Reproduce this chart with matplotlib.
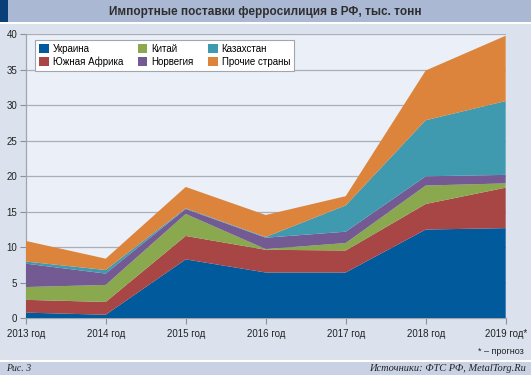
import matplotlib
matplotlib.use("Agg")
import matplotlib.pyplot as plt
from matplotlib.patches import Rectangle, Patch

plt.rcParams['font.family'] = ['Liberation Sans', 'DejaVu Sans']

years = [2013, 2014, 2015, 2016, 2017, 2018, 2019]
year_labels = ['2013 год', '2014 год', '2015 год', '2016 год', '2017 год', '2018 год', '2019 год*']
series_names = ['Украина', 'Южная Африка', 'Китай', 'Норвегия', 'Казахстан', 'Прочие страны']
ukraine = [0.8, 0.5, 8.3, 6.45, 6.45, 12.5, 12.7]
south_africa = [1.8, 1.8, 3.3, 3.2, 3.1, 3.6, 5.7]
china = [1.8, 2.4, 3.1, 0.1, 1.05, 2.6, 0.6]
norway = [3.3, 1.6, 0.7, 1.6, 1.6, 1.3, 1.2]
kazakhstan = [0.3, 0.5, 0.1, 0.1, 3.7, 7.9, 10.4]
others = [2.9, 1.6, 3.0, 3.1, 1.3, 7.0, 9.2]
colors = ['#005a9c', '#a84545', '#8aa84e', '#745a92', '#3f9ab0', '#dd843c']

W, H = 531, 375
fig = plt.figure(figsize=(W / 100, H / 100), dpi=100)
fig.patch.set_facecolor('#dbe2ee')

def px_rect(x0, y0, x1, y1, color):
    fig.patches.append(Rectangle((x0 / W, 1 - y1 / H), (x1 - x0) / W, (y1 - y0) / H,
                                 transform=fig.transFigure, facecolor=color,
                                 edgecolor='none', zorder=-10))

px_rect(0, 0, W, 22, '#aab8d4')
px_rect(0, 0, 8, 22, '#0a3f7a')
px_rect(0, 22, W, 24, 'white')
px_rect(0, 360, W, 362, 'white')
px_rect(0, 362, W, H, '#c9d2e5')

fig.text(265 / W, 1 - 11.5 / H, 'Импортные поставки ферросилиция в РФ, тыс. тонн',
         ha='center', va='center', fontsize=8.5, fontweight='bold', color='#2e2e2e')
fig.text(6 / W, 1 - 368.5 / H, 'Рис. 3', ha='left', va='center', fontsize=7,
         style='italic', family=['Liberation Serif'], color='#222222')
fig.text(526 / W, 1 - 368.5 / H, 'Источники: ФТС РФ, MetalTorg.Ru', ha='right', va='center',
         fontsize=7.5, style='italic', family=['Liberation Serif'], color='#222222')
fig.text(524 / W, 1 - 351 / H, '* – прогноз', ha='right', va='center', fontsize=6.5,
         color='#222222')

ax = fig.add_axes([25.7 / W, 1 - 318.3 / H, 480 / W, 284 / H])
ax.set_facecolor('#ebeff7')
ax.stackplot(years, ukraine, south_africa, china, norway, kazakhstan, others,
             colors=colors, linewidth=0, zorder=3)
ax.set_xlim(2013, 2019)
ax.set_ylim(0, 40)
ax.set_yticks(range(0, 41, 5))
ax.set_xticks(years)
ax.set_xticklabels(year_labels)
ax.grid(axis='y', color='#a9aeb8', linewidth=0.9, zorder=1)
ax.set_axisbelow(True)
for s in ['top', 'right']:
    ax.spines[s].set_visible(False)
for s in ['left', 'bottom']:
    ax.spines[s].set_color('#a0a6b0')
    ax.spines[s].set_linewidth(0.9)
ax.tick_params(axis='both', colors='#8a909a', labelcolor='#222222', labelsize=7, length=4, width=0.8)
ax.tick_params(axis='x', pad=4)
ax.tick_params(axis='y', pad=2)

handles = [Patch(facecolor=c, edgecolor='none') for c in colors]
leg = ax.legend(handles, series_names, ncol=3, loc='upper left',
                bbox_to_anchor=(9.5 / 480, 1 - 5.5 / 284), fontsize=7,
                frameon=True, fancybox=False, handlelength=1.0, handleheight=1.0,
                handletextpad=0.4, columnspacing=1.5, labelspacing=0.3,
                borderpad=0.4, borderaxespad=0)
leg.get_frame().set_edgecolor('#a0a6b0')
leg.get_frame().set_linewidth(0.8)
leg.get_frame().set_facecolor('white')
leg.get_frame().set_alpha(1)
leg.set_zorder(5)

fig.savefig('out.png', dpi=100)
